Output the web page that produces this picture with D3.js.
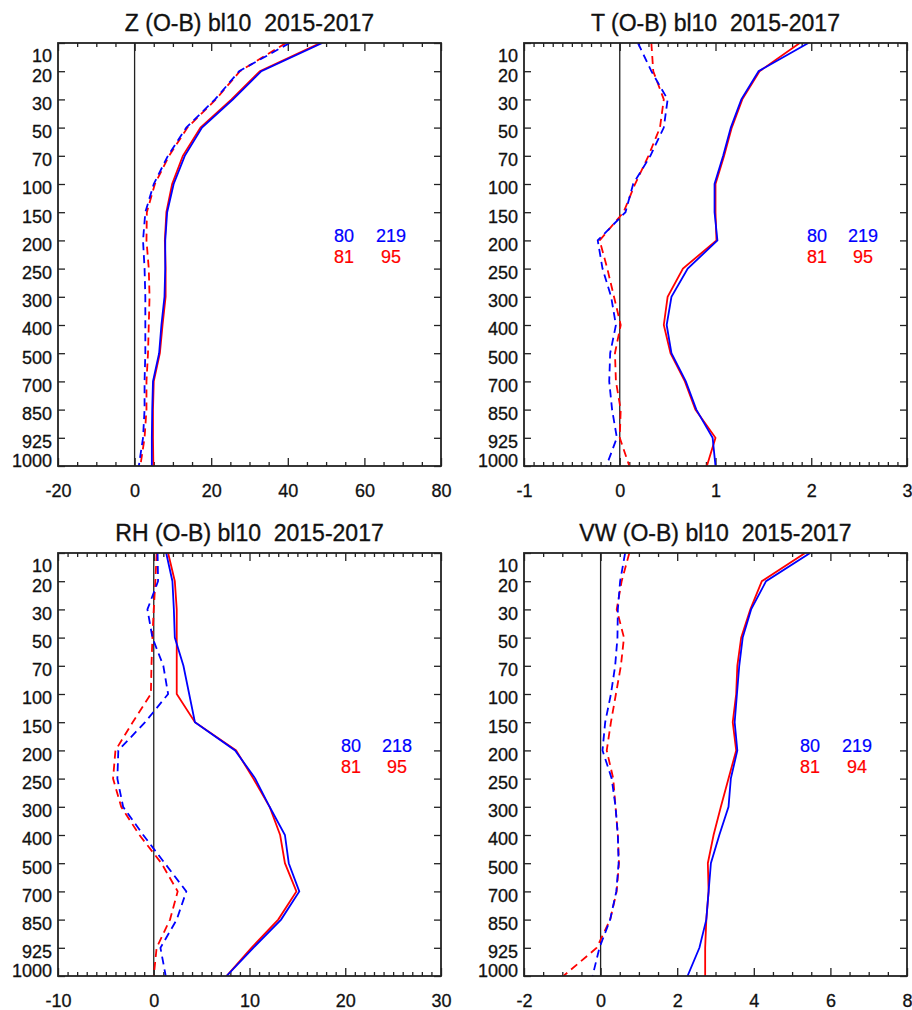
<!DOCTYPE html>
<html>
<head>
<meta charset="utf-8">
<script src="https://cdn.jsdelivr.net/npm/d3@7"></script>
<style>
  body { margin: 0; background: #fff; }
  svg { display: block; font-family: "Liberation Sans", Arial, sans-serif; }
</style>
</head>
<body>
<div id="chart"></div>
<script>
// pressure levels (hPa), top to bottom
const levels = [10, 20, 30, 50, 70, 100, 150, 200, 250, 300, 400, 500, 700, 850, 925, 1000]

// Z
const zStdBlue  = [49.0, 33.1, 25.7, 17.6, 13.1, 10.2, 8.5, 8.0, 8.0, 7.8, 7.0, 6.4, 4.8, 4.6, 4.5, 4.5]
const zStdRed   = [48.5, 32.7, 25.3, 17.2, 12.6, 9.8, 8.3, 7.9, 8.1, 8.1, 7.3, 6.6, 5.0, 4.8, 4.8, 4.9]
const zMeanBlue = [40.5, 27.3, 21.0, 13.5, 8.7, 5.0, 2.8, 2.2, 2.6, 2.8, 2.8, 2.8, 2.6, 2.6, 2.2, 1.1]
const zMeanRed  = [39.5, 27.5, 21.2, 13.8, 9.0, 5.3, 3.2, 3.1, 3.7, 3.9, 3.7, 3.5, 3.1, 3.1, 2.6, 1.5]
const zCounts = [[80, 219], [81, 95]]

// T
const tStdBlue  = [1.97, 1.45, 1.27, 1.16, 1.08, 0.99, 0.99, 1.02, 0.71, 0.54, 0.49, 0.54, 0.69, 0.80, 0.97, 1.00]
const tStdRed   = [1.88, 1.46, 1.28, 1.17, 1.09, 1.00, 1.00, 1.01, 0.66, 0.50, 0.46, 0.53, 0.68, 0.79, 1.00, 0.91]
const tMeanBlue = [0.19, 0.33, 0.50, 0.46, 0.32, 0.14, 0.06, -0.23, -0.18, -0.09, -0.04, -0.10, -0.11, -0.08, -0.03, -0.14]
const tMeanRed  = [0.33, 0.35, 0.46, 0.42, 0.30, 0.16, 0.04, -0.21, -0.13, -0.06, 0.01, -0.05, -0.04, 0.01, 0.00, 0.10]
const tCounts = [[80, 219], [81, 95]]

// RH
const rhStdBlue  = [1.3, 1.95, 2.1, 2.2, 3.1, 3.7, 4.3, 8.5, 10.6, 12.1, 13.7, 14.1, 15.2, 13.3, 10.4, 7.6]
const rhStdRed   = [1.5, 2.2, 2.4, 2.4, 2.4, 2.4, 4.3, 8.6, 10.4, 12.1, 13.2, 13.7, 14.9, 13.0, 10.2, 7.6]
const rhMeanBlue = [0.4, 0.45, -0.66, -0.14, 1.0, 1.5, -0.9, -3.7, -3.8, -3.2, -1.1, 1.15, 3.4, 2.4, 0.7, 1.25]
const rhMeanRed  = [0.3, 0.17, 0.0, -0.14, -0.24, -0.3, -2.2, -4.0, -4.25, -3.4, -1.5, 0.8, 2.5, 1.7, 0.3, 0.0]
const rhCounts = [[80, 218], [81, 95]]

// VW
const vwStdBlue  = [5.47, 4.32, 3.93, 3.71, 3.62, 3.56, 3.50, 3.57, 3.40, 3.34, 3.10, 2.88, 2.82, 2.76, 2.58, 2.27]
const vwStdRed   = [5.34, 4.21, 3.91, 3.67, 3.57, 3.54, 3.45, 3.54, 3.34, 3.14, 2.95, 2.80, 2.82, 2.76, 2.73, 2.73]
const vwMeanBlue = [0.64, 0.51, 0.45, 0.44, 0.38, 0.27, 0.12, 0.05, 0.29, 0.39, 0.45, 0.47, 0.41, 0.25, -0.03, -0.21]
const vwMeanRed  = [0.75, 0.55, 0.42, 0.61, 0.53, 0.40, 0.27, 0.16, 0.33, 0.39, 0.45, 0.48, 0.42, 0.25, -0.10, -0.97]
const vwCounts = [[80, 219], [81, 94]]

const panels = [
  {title: 'Z (O-B) bl10  2015-2017', x: 58, y: 43, domain: [-20, 80], major: 20, minor: 5,
    std: [zStdRed, zStdBlue], mean: [zMeanRed, zMeanBlue], counts: zCounts, leg: [286, 333]},
  {title: 'T (O-B) bl10  2015-2017', x: 524, y: 43, domain: [-1, 3], major: 1, minor: 0.1,
    std: [tStdRed, tStdBlue], mean: [tMeanRed, tMeanBlue], counts: tCounts, leg: [293, 339]},
  {title: 'RH (O-B) bl10  2015-2017', x: 58, y: 553, domain: [-10, 30], major: 10, minor: 1,
    std: [rhStdRed, rhStdBlue], mean: [rhMeanRed, rhMeanBlue], counts: rhCounts, leg: [293, 339]},
  {title: 'VW (O-B) bl10  2015-2017', x: 524, y: 553, domain: [-2, 8], major: 2, minor: 0.5,
    std: [vwStdRed, vwStdBlue], mean: [vwMeanRed, vwMeanBlue], counts: vwCounts, leg: [286, 333]}
]

const w = 912
const h = 1010
const pw = 383
const ph = 423
const colors = ['#ff0000', '#0000ff']   // red drawn first, blue on top

const svg = d3.select('#chart')
  .append('svg')
  .attr('width', w)
  .attr('height', h)

const range = (a, b, step) => {
  const n = Math.round((b - a) / step)
  return d3.range(n + 1).map(i => +(a + i * step).toFixed(6))
}

panels.forEach(p => {
  const g = svg.append('g').attr('transform', `translate(${p.x},${p.y})`)

  const xScale = d3.scaleLinear().domain(p.domain).range([0, pw])
  const yScale = d3.scalePoint().domain(levels).range([0, ph])

  const majors = range(p.domain[0], p.domain[1], p.major)
  const minors = range(p.domain[0], p.domain[1], p.minor)
    .filter(v => !majors.some(m => Math.abs(m - v) < 1e-6))

  /*title*/
  g.append('text')
    .attr('x', pw / 2)
    .attr('y', -12)
    .attr('text-anchor', 'middle')
    .style('white-space', 'pre')
    .attr('font-size', 23)
    .attr('fill', '#111')
    .attr('stroke', '#111')
    .attr('stroke-width', 0.35)
    .text(p.title)

  /*x axes: bottom with labels, top without*/
  const xBottom = g.append('g')
    .attr('class', 'x-axis')
    .attr('transform', `translate(0,${ph})`)
    .call(d3.axisBottom(xScale).tickValues(majors).tickSize(-8).tickPadding(18)
      .tickFormat(d => String(d)))
  xBottom.append('g')
    .call(d3.axisBottom(xScale).tickValues(minors).tickSize(-4).tickFormat(''))

  const xTop = g.append('g')
    .call(d3.axisTop(xScale).tickValues(majors).tickSize(-8).tickFormat(''))
  xTop.append('g')
    .call(d3.axisTop(xScale).tickValues(minors).tickSize(-4).tickFormat(''))

  /*y axes*/
  const yLeft = g.append('g')
    .call(d3.axisLeft(yScale).tickSize(-7).tickPadding(6))
  yLeft.selectAll('text')
    .attr('dy', (d, i) => i === 0 ? '1.05em' : i === levels.length - 1 ? '0.0em' : '0.55em')

  g.append('g')
    .attr('transform', `translate(${pw},0)`)
    .call(d3.axisRight(yScale).tickSize(-7).tickFormat(''))

  g.selectAll('.domain').remove()
  g.selectAll('.tick line').attr('stroke', '#222').attr('stroke-width', 1.3)
  g.selectAll('.tick text')
    .attr('font-size', 18)
    .attr('fill', '#111')
    .attr('stroke', '#111')
    .attr('stroke-width', 0.3)
    .attr('font-family', '"Liberation Sans", Arial, sans-serif')

  /*zero line*/
  g.append('line')
    .attr('x1', xScale(0)).attr('x2', xScale(0))
    .attr('y1', 0).attr('y2', ph)
    .attr('stroke', '#222')
    .attr('stroke-width', 1.3)

  /*profiles*/
  const line = d3.line()
    .x(d => xScale(d[0]))
    .y(d => yScale(d[1]))

  const clip = 'clip' + p.x + '_' + p.y
  g.append('clipPath').attr('id', clip)
    .append('rect').attr('width', pw).attr('height', ph)

  const lines = g.append('g').attr('clip-path', `url(#${clip})`)
  ;[0, 1].forEach(k => {
    lines.append('path')
      .datum(p.mean[k].map((v, i) => [v, levels[i]]))
      .attr('d', line)
      .attr('fill', 'none')
      .attr('stroke', colors[k])
      .attr('stroke-width', 1.8)
      .attr('stroke-dasharray', '8,5')
    lines.append('path')
      .datum(p.std[k].map((v, i) => [v, levels[i]]))
      .attr('d', line)
      .attr('fill', 'none')
      .attr('stroke', colors[k])
      .attr('stroke-width', 1.8)
  })

  /*counts*/
  const legColors = ['#0000ff', '#ff0000']
  p.counts.forEach((row, r) => {
    row.forEach((n, c) => {
      g.append('text')
        .attr('x', p.leg[c])
        .attr('y', 198.5 + r * 21.5)
        .attr('text-anchor', 'middle')
        .attr('font-size', 18)
        .attr('fill', legColors[r])
        .attr('stroke', legColors[r])
        .attr('stroke-width', 0.2)
        .text(n)
    })
  })

  /*frame*/
  g.append('rect')
    .attr('width', pw)
    .attr('height', ph)
    .attr('fill', 'none')
    .attr('stroke', '#222')
    .attr('stroke-width', 1.8)
})
</script>
</body>
</html>
